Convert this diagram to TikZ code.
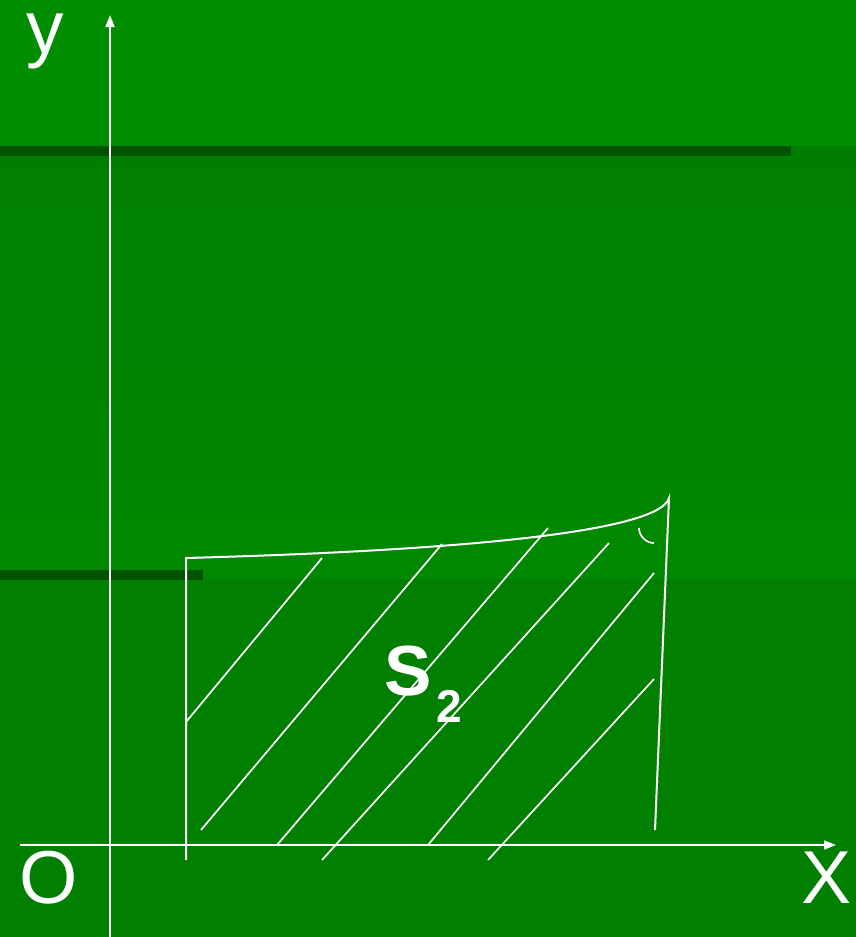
\documentclass[tikz,border=0pt]{standalone}
\usepackage{fontspec}
\setmainfont{Liberation Sans}
\usetikzlibrary{arrows.meta}

\definecolor{obengruen}{RGB}{0,141,0}
\definecolor{mittegruenA}{RGB}{0,126,0}
\definecolor{mittegruenB}{RGB}{0,137,0}
\definecolor{untengruen}{RGB}{0,127,0}
\definecolor{balkengruen}{RGB}{0,84,0}

\tikzset{
  achse/.style={white, line width=2pt, -{Triangle[length=12pt,width=9pt]}},
  rand/.style={white, line width=2pt},
  schraffur/.style={white, line width=1.7pt},
  achsname/.style={white, anchor=base, inner sep=0pt, font=\fontsize{75}{75}\selectfont},
}

\newcommand{\balken}[3]{%
  \fill[balkengruen] (0,#1) rectangle (#3,#2);
}

\begin{document}
\begin{tikzpicture}[x=1pt,y=-1pt]
  \useasboundingbox (0,0) rectangle (856,937);

  %%%%%%%%%%%%%%%%%%%%%%%%%%%%%%%%%%%%%%%%%%%%%%%%%%%%%%%%%%%%%%%%%%%%%
  % Hintergrund
  \fill[untengruen] (0,0) rectangle (856,937);
  \shade[top color=mittegruenA, bottom color=mittegruenB] (0,146) rectangle (856,578);
  \fill[obengruen] (0,0) rectangle (856,146);
  \balken{146}{156}{791}
  \balken{570}{580}{203}

  %%%%%%%%%%%%%%%%%%%%%%%%%%%%%%%%%%%%%%%%%%%%%%%%%%%%%%%%%%%%%%%%%%%%%
  % Achsen
  \coordinate (xanf) at (20,845);
  \coordinate (xend) at (836,845);
  \coordinate (yanf) at (110,937);
  \coordinate (yend) at (110,15);
  \draw[achse] (xanf) -- (xend);
  \draw[achse] (yanf) -- (yend);

  \node[achsname, text height=0.52em] (ylabel) at (45,53) {y};
  \node[achsname] (ursprung) at (49,903) {O};
  \node[achsname] (xlabel) at (827,903) {X};

  %%%%%%%%%%%%%%%%%%%%%%%%%%%%%%%%%%%%%%%%%%%%%%%%%%%%%%%%%%%%%%%%%%%%%
  % Flaeche S2
  \draw[rand] (186,860) -- (186,558)
      .. controls (480,550) and (660,530) .. (669,498) -- (655,830);
  % Winkel oben rechts
  \draw[rand, line width=1.7pt] (639,528) .. controls (639,536) and (646,543) .. (654,543);

  % Schraffur
  \draw[schraffur] (186,722) -- (322,558);
  \draw[schraffur] (201,830) -- (442,544);
  \draw[schraffur] (277,845) -- (548,528);
  \draw[schraffur] (322,860) -- (609,543);
  \draw[schraffur] (428,845) -- (654,573);
  \draw[schraffur] (488,860) -- (654,679);

  \node[white, anchor=base, inner sep=0pt, font=\bfseries\fontsize{71}{71}\selectfont] (sname) at (408,695) {S};
  \node[white, anchor=base, inner sep=0pt, font=\bfseries\fontsize{46}{46}\selectfont] (sindex) at (449,722) {2};

\end{tikzpicture}
\end{document}
